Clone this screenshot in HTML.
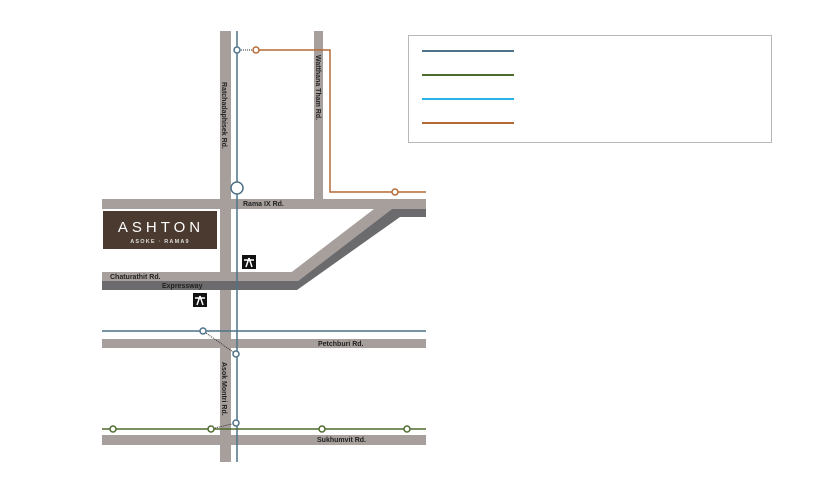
<!DOCTYPE html>
<html><head><meta charset="utf-8"><style>body{margin:0;background:#fff}svg{display:block}text{font-family:"Liberation Sans",sans-serif;font-weight:bold}</style></head><body>
<svg width="818" height="491" viewBox="0 0 818 491" xmlns="http://www.w3.org/2000/svg">
<rect x="408.5" y="35.5" width="363" height="107" fill="#fff" stroke="#b8b8b8"/>
<line x1="422" y1="51" x2="514" y2="51" stroke="#4e7388" stroke-width="2"/>
<line x1="422" y1="75" x2="514" y2="75" stroke="#4e6b2e" stroke-width="2"/>
<line x1="422" y1="99" x2="514" y2="99" stroke="#2ab5e8" stroke-width="2"/>
<line x1="422" y1="123" x2="514" y2="123" stroke="#b56a35" stroke-width="2"/>
<g fill="#a79f9c">
<rect x="220" y="31" width="11" height="431"/>
<rect x="314" y="31" width="9" height="172"/>
<rect x="102" y="199" width="324" height="10"/>
<polygon points="374,209 392,209 298,281 280,281"/>
<rect x="102" y="272" width="190" height="9"/>
<rect x="102" y="339" width="324" height="9"/>
<rect x="102" y="435" width="324" height="10"/>
</g>
<polygon fill="#6b6a6c" points="392,209 426,209 426,217 400,217 297,290 102,290 102,281 298,281"/>
<rect x="103" y="211" width="114" height="38" fill="#4a3a2f"/>
<text x="161" y="232" fill="#fff" font-size="15" text-anchor="middle" letter-spacing="4" style="font-weight:normal">ASHTON</text>
<text x="160" y="243" fill="#ddd" font-size="5.5" text-anchor="middle" letter-spacing="1.2">ASOKE · RAMA9</text>
<text x="243" y="206" font-size="7" fill="#222">Rama IX Rd.</text>
<text x="110" y="279" font-size="7" fill="#222">Chaturathit Rd.</text>
<text x="162" y="288" font-size="7" fill="#222">Expressway</text>
<text x="318" y="346" font-size="7" fill="#222">Petchburi Rd.</text>
<text x="317" y="442" font-size="7" fill="#222">Sukhumvit Rd.</text>
<text transform="translate(222,82) rotate(90)" font-size="7" fill="#222">Ratchadaphisek Rd.</text>
<text transform="translate(316,55) rotate(90)" font-size="7" fill="#222">Watthana Tham Rd.</text>
<text transform="translate(222,362) rotate(90)" font-size="7" fill="#222">Asok Montri Rd.</text>
<g><rect x="242" y="255" width="14" height="14" fill="#111"/><path d="M249 258 L246 267 M249 258 L252 267 M244 260 H254" stroke="#fff" stroke-width="1.5"/></g>
<g><rect x="193" y="293" width="14" height="14" fill="#111"/><path d="M200 296 L197 305 M200 296 L203 305 M195 298 H205" stroke="#fff" stroke-width="1.5"/></g>
<line x1="237" y1="31" x2="237" y2="462" stroke="#4e7388" stroke-width="1.5"/>
<line x1="102" y1="331" x2="426" y2="331" stroke="#4e7388" stroke-width="1.5"/>
<line x1="102" y1="429" x2="426" y2="429" stroke="#4e6b2e" stroke-width="1.5"/>
<polyline points="256,50 330,50 330,192 426,192" fill="none" stroke="#b56a35" stroke-width="1.5"/>
<g stroke="#333" stroke-width="1" stroke-dasharray="1,1"><line x1="237" y1="50" x2="256" y2="50"/><line x1="203" y1="331" x2="236" y2="354"/><line x1="211" y1="429" x2="236" y2="423"/></g>
<g fill="#fff" stroke-width="1.5">
<circle cx="237" cy="50" r="3" stroke="#4e7388"/>
<circle cx="256" cy="50" r="3" stroke="#b56a35"/>
<circle cx="395" cy="192" r="3" stroke="#b56a35"/>
<circle cx="237" cy="188" r="6" stroke="#4e7388"/>
<circle cx="203" cy="331" r="3" stroke="#4e7388"/>
<circle cx="236" cy="354" r="3" stroke="#4e7388"/>
<circle cx="236" cy="423" r="3" stroke="#4e7388"/>
<circle cx="113" cy="429" r="3" stroke="#4e6b2e"/>
<circle cx="211" cy="429" r="3" stroke="#4e6b2e"/>
<circle cx="322" cy="429" r="3" stroke="#4e6b2e"/>
<circle cx="407" cy="429" r="3" stroke="#4e6b2e"/>
</g>
</svg>
</body></html>
